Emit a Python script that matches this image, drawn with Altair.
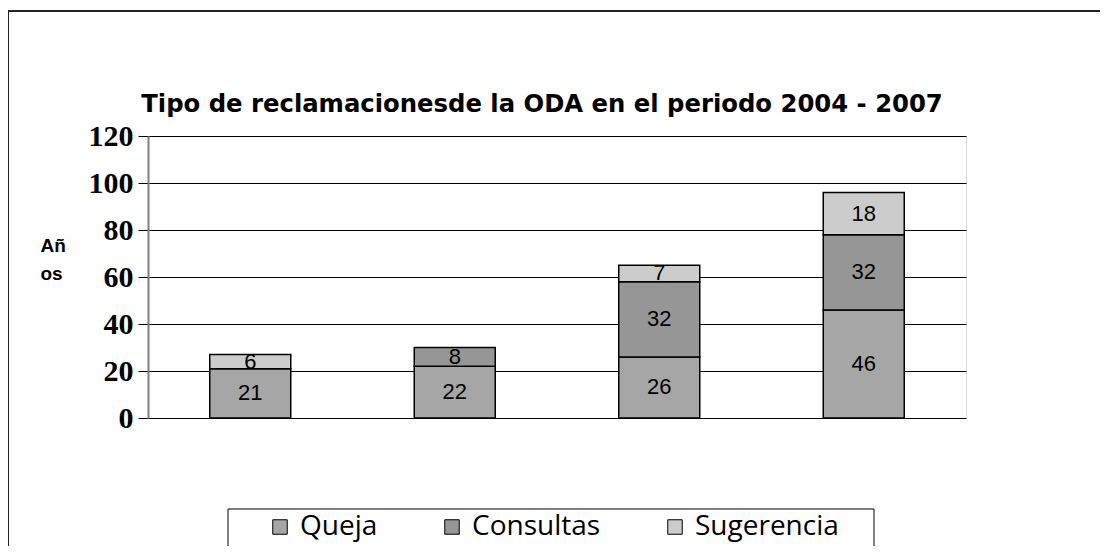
import altair as alt
import pandas as pd

years = ["2004", "2005", "2006", "2007"]
series = ["Queja", "Consultas", "Sugerencia"]
queja = [21, 22, 26, 46]
consultas = [0, 8, 32, 32]
sugerencia = [6, 0, 7, 18]
colors = ["#A6A6A6", "#969696", "#CCCCCC"]
title_text = "Tipo de reclamacionesde la ODA en el periodo 2004 - 2007"
y_title = ["Añ", "os"]

rows = []
for i, yr in enumerate(years):
    base = 0
    for k, (name, vals) in enumerate(zip(series, [queja, consultas, sugerencia])):
        v = vals[i]
        if v > 0:
            rows.append({"year": yr, "serie": name, "value": v, "order": k,
                         "mid": base + v / 2})
        base += v
df = pd.DataFrame(rows)

W, H = 818, 282

xenc = alt.X("year:N", sort=years, axis=None,
             scale=alt.Scale(paddingInner=0.6, paddingOuter=0.3))

bars = alt.Chart(df).mark_bar(stroke="black", strokeWidth=1.5, size=81).encode(
    x=xenc,
    y=alt.Y("value:Q", stack="zero",
            scale=alt.Scale(domain=[0, 120]),
            axis=alt.Axis(values=[0, 20, 40, 60, 80, 100, 120], grid=True,
                          gridColor="#000000", gridWidth=1,
                          domainColor="#808080", domainWidth=2,
                          tickColor="#000000", tickSize=10, tickWidth=1,
                          labelFont="Liberation Serif", labelFontWeight="bold",
                          labelFontSize=30, labelColor="#000000", labelPadding=5,
                          title=y_title, titleAngle=0, titleAlign="left",
                          titleBaseline="alphabetic", titleX=-108, titleY=115,
                          titleFont="Liberation Sans", titleFontWeight="bold",
                          titleFontSize=19, titleLineHeight=28, titleColor="#000000")),
    color=alt.Color("serie:N", scale=alt.Scale(domain=series, range=colors),
                    legend=alt.Legend(orient="none", legendX=118, legendY=377,
                                      direction="horizontal", title=None,
                                      symbolType="square", symbolSize=210,
                                      symbolStrokeColor="black", symbolStrokeWidth=1,
                                      labelFont="Open Sans", labelFontSize=28,
                                      labelColor="#000000", labelOffset=6,
                                      columnPadding=60, padding=0)),
    order=alt.Order("order:Q"),
)

labels = alt.Chart(df).mark_text(font="Liberation Sans", fontSize=22,
                                 color="black", baseline="middle").encode(
    x=xenc,
    y=alt.Y("mid:Q"),
    text=alt.Text("value:Q"),
)

one = pd.DataFrame({"t": [title_text]})
frame = alt.Chart(one).mark_rect(fillOpacity=0, stroke="#222222", strokeWidth=2).encode(
    x=alt.value(-140), x2=alt.value(1000), y=alt.value(-125), y2=alt.value(500))
legbox = alt.Chart(one).mark_rect(fill="white", stroke="black", strokeWidth=1).encode(
    x=alt.value(80), x2=alt.value(726), y=alt.value(373), y2=alt.value(417))
title = alt.Chart(one).mark_text(font="DejaVu Sans", fontWeight="bold",
                                 fontSize=24.3, color="black", align="center",
                                 baseline="alphabetic").encode(
    x=alt.value(394), y=alt.value(-24), text="t:N")

chart = alt.layer(frame, legbox, bars, labels, title).properties(
    width=W, height=H,
    autosize=alt.AutoSizeParams(type="none"),
    padding={"left": 140, "top": 128, "right": 134, "bottom": 128},
).configure_view(stroke="#808080", strokeWidth=2).configure(background="white")

chart.save("out.html", embed_options={"renderer": "svg", "actions": False})
